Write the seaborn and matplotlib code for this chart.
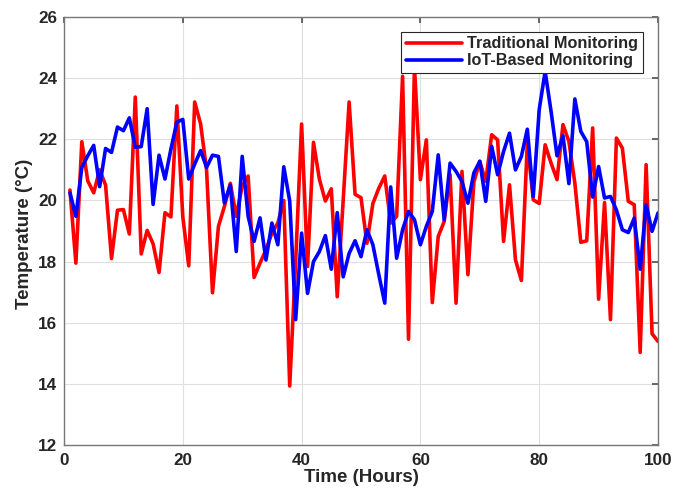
import numpy as np
import pandas as pd
import matplotlib
matplotlib.use("Agg")
import matplotlib.pyplot as plt
import seaborn as sns

hours = list(range(1, 101))

traditional = [
    20.34, 17.95, 21.92, 20.64, 20.25, 21.0, 20.5, 18.1, 19.68, 19.7,
    18.9, 23.38, 18.25, 19.02, 18.58, 17.64, 19.6, 19.46, 23.09, 19.46,
    17.86, 23.22, 22.5, 21.0, 16.98, 19.15, 19.8, 20.56, 19.48, 20.47,
    20.8, 17.48, 17.95, 18.38, 18.93, 19.26, 20.0, 13.93, 18.0, 22.5,
    17.84, 21.9, 20.69, 19.98, 20.38, 16.85, 20.0, 23.22, 20.2, 20.09,
    18.6, 19.9, 20.4, 20.8, 19.26, 19.48, 24.06, 15.46, 24.38, 20.68,
    21.98, 16.66, 18.82, 19.31, 20.84, 16.64, 20.95, 17.57, 20.6, 21.28,
    20.62, 22.15, 21.98, 18.66, 20.51, 18.06, 17.38, 21.88, 20.02, 19.9,
    21.82, 21.22, 20.68, 22.48, 21.93, 20.57, 18.63, 18.68, 22.37, 16.77,
    19.93, 16.1, 22.04, 21.71, 19.97, 19.86, 15.03, 21.17, 15.64, 15.39,
]

iot = [
    20.25, 19.48, 21.08, 21.46, 21.8, 20.45, 21.7, 21.57, 22.4, 22.28,
    22.7, 21.74, 21.76, 23.0, 19.87, 21.48, 20.7, 21.68, 22.56, 22.65,
    20.7, 21.19, 21.63, 21.08, 21.48, 21.44, 19.92, 20.5, 18.33, 21.44,
    19.48, 18.66, 19.43, 18.05, 19.26, 18.55, 21.1, 19.98, 16.1, 18.93,
    16.96, 18.0, 18.33, 18.85, 17.75, 19.6, 17.5, 18.27, 18.68, 18.16,
    19.04, 18.55, 17.57, 16.64, 20.44, 18.11, 19.04, 19.64, 19.37, 18.55,
    19.15, 19.64, 21.49, 19.37, 21.22, 20.95, 20.62, 19.91, 20.9, 21.28,
    19.97, 21.77, 20.84, 21.6, 22.2, 21.0, 21.44, 22.33, 20.13, 22.97,
    24.22, 22.91, 21.46, 22.12, 20.55, 23.32, 22.26, 21.92, 20.11, 21.11,
    20.08, 20.13, 19.69, 19.04, 18.95, 19.42, 17.75, 19.86, 18.99, 19.59,
]

series_names = ["Traditional Monitoring", "IoT-Based Monitoring"]

df = pd.DataFrame({
    "Time": hours * 2,
    "Temperature": traditional + iot,
    "Method": [series_names[0]] * len(hours) + [series_names[1]] * len(hours),
})

sns.set_theme(style="whitegrid")
plt.rcParams["font.family"] = ["Liberation Sans", "DejaVu Sans"]
plt.rcParams["font.weight"] = "bold"

fig = plt.figure(figsize=(6.75, 4.9), dpi=100)
ax = fig.add_axes([64 / 675, 45 / 490, 594 / 675, 428 / 490])

sns.lineplot(data=df, x="Time", y="Temperature", hue="Method",
             palette={series_names[0]: "#FF0000", series_names[1]: "#0000FF"},
             linewidth=2.6, ax=ax)

ax.set_xlim(0, 100)
ax.set_ylim(12, 26)
ax.set_xticks(range(0, 101, 20))
ax.set_yticks(range(12, 27, 2))
ax.set_xlabel("Time (Hours)", fontsize=13.5, fontweight="bold", color="#262626")
ax.set_ylabel("Temperature (°C)", fontsize=13.5, fontweight="bold", color="#262626")
ax.xaxis.set_label_coords(0.5, -0.057)
ax.yaxis.set_label_coords(-0.052, 0.493)
ax.tick_params(axis="both", labelsize=12.3, direction="in", length=4,
               color="#555555", labelcolor="#262626",
               top=True, right=True)
ax.tick_params(axis="x", pad=6)
ax.tick_params(axis="y", pad=5)
for lab in ax.get_xticklabels() + ax.get_yticklabels():
    lab.set_fontweight("bold")

ax.grid(True, color="#DFDFDF", linewidth=0.8)
ax.set_facecolor("white")
for s in ax.spines.values():
    s.set_visible(True)
    s.set_color("#777777")
    s.set_linewidth(1.0)

leg = ax.legend(loc="upper right", bbox_to_anchor=(0.975, 0.966),
                borderaxespad=0.0, frameon=True, fancybox=False,
                handlelength=3.4, borderpad=0.3, labelspacing=0.12,
                handletextpad=0.35,
                prop={"weight": "bold", "size": 11.7})
leg.get_frame().set_edgecolor("#262626")
leg.get_frame().set_linewidth(0.8)
leg.get_frame().set_alpha(1.0)
for t in leg.get_texts():
    t.set_color("#262626")

fig.savefig("out.png", dpi=100, facecolor="white")
